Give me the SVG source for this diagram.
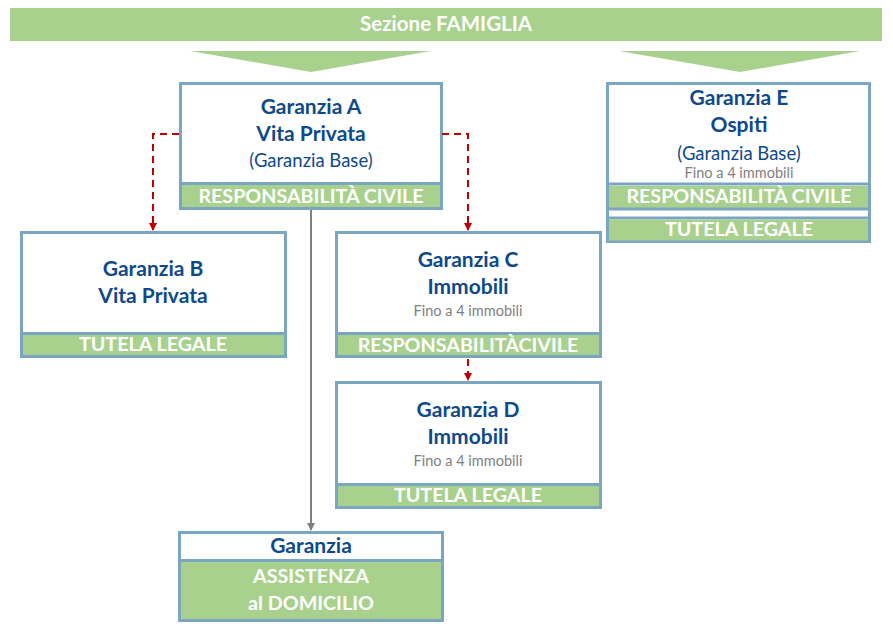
<svg xmlns="http://www.w3.org/2000/svg" width="893" height="634" viewBox="0 0 893 634">
<defs>
<marker id="ag" markerWidth="8" markerHeight="8" refX="7" refY="4" orient="auto" markerUnits="userSpaceOnUse" viewBox="0 0 8 8"><path d="M0,0 L8,4 L0,8 Z" fill="#7f7f7f"/></marker>
<marker id="arr" markerWidth="8" markerHeight="8" refX="7" refY="4" orient="auto" markerUnits="userSpaceOnUse" viewBox="0 0 8 8"><path d="M0,0 L8,4 L0,8 Z" fill="#c00000"/></marker>
</defs>
<style>
.box{fill:#fff;stroke:#7aa6c2;stroke-width:3}
.band{fill:#a9d18e}
.ln{stroke:#7aa6c2;stroke-width:3}
.t{font-family:Lato,"Liberation Sans",sans-serif;font-weight:bold;font-size:21px;fill:#0e4a8a;text-anchor:middle}
.s{font-family:Lato,"Liberation Sans",sans-serif;font-size:18.5px;fill:#0e4a8a;text-anchor:middle}
.f{font-family:Lato,"Liberation Sans",sans-serif;font-size:14.5px;fill:#7f7f7f;text-anchor:middle}
.w{font-family:Lato,"Liberation Sans",sans-serif;font-weight:bold;font-size:19.7px;fill:#fff;text-anchor:middle}
.d{fill:none;stroke:#c00000;stroke-width:2;stroke-dasharray:7,5}
</style>
<g id="header">
<rect x="10" y="8" width="872" height="33" class="band"/>
<text x="446" y="31" class="w" style="font-size:20.5px">Sezione FAMIGLIA</text>
<polygon points="190,51 431,51 311,72" class="band"/>
<polygon points="619,51 860,51 740,72" class="band"/>
</g>
<g id="nodeA">
<rect x="180.5" y="83.5" width="261" height="125" class="box"/>
<rect x="182" y="185" width="258" height="22" class="band"/>
<line x1="180" y1="183.5" x2="442" y2="183.5" class="ln"/>
<text x="311" y="114" class="t">Garanzia A</text>
<text x="311" y="141" class="t">Vita Privata</text>
<text x="311" y="167" class="s">(Garanzia Base)</text>
<text x="311" y="203" class="w">RESPONSABILITÀ CIVILE</text>
</g>
<g id="nodeE">
<rect x="607.5" y="83.5" width="262" height="158" class="box"/>
<line x1="607" y1="184" x2="870" y2="184" class="ln"/>
<rect x="609" y="186" width="259" height="22" class="band"/>
<line x1="607" y1="209" x2="870" y2="209" class="ln"/>
<line x1="607" y1="218" x2="870" y2="218" class="ln"/>
<rect x="609" y="219.5" width="259" height="21" class="band"/>
<text x="739" y="105" class="t">Garanzia E</text>
<text x="739" y="132" class="t">Ospiti</text>
<text x="739" y="160" class="s">(Garanzia Base)</text>
<text x="739" y="178" class="f">Fino a 4 immobili</text>
<text x="739" y="203" class="w">RESPONSABILITÀ CIVILE</text>
<text x="739" y="236" class="w">TUTELA LEGALE</text>
</g>
<g id="nodeB">
<rect x="21.5" y="232.5" width="264" height="124" class="box"/>
<line x1="21" y1="333.5" x2="286" y2="333.5" class="ln"/>
<rect x="23" y="335" width="261" height="20" class="band"/>
<text x="153" y="276" class="t">Garanzia B</text>
<text x="153" y="303" class="t">Vita Privata</text>
<text x="153" y="351" class="w">TUTELA LEGALE</text>
</g>
<g id="nodeC">
<rect x="336.5" y="232.5" width="264" height="124" class="box"/>
<line x1="336" y1="333.5" x2="601" y2="333.5" class="ln"/>
<rect x="338" y="335" width="261" height="20" class="band"/>
<text x="468" y="267" class="t">Garanzia C</text>
<text x="468" y="294" class="t">Immobili</text>
<text x="468" y="316" class="f">Fino a 4 immobili</text>
<text x="468" y="352" class="w">RESPONSABILITÀCIVILE</text>
</g>
<g id="nodeD">
<rect x="336.5" y="382.5" width="264" height="125" class="box"/>
<line x1="336" y1="484.5" x2="601" y2="484.5" class="ln"/>
<rect x="338" y="486" width="261" height="20" class="band"/>
<text x="468" y="417" class="t">Garanzia D</text>
<text x="468" y="444" class="t">Immobili</text>
<text x="468" y="466" class="f">Fino a 4 immobili</text>
<text x="468" y="502" class="w">TUTELA LEGALE</text>
</g>
<g id="nodeF">
<rect x="179.5" y="532.5" width="263" height="88" class="box"/>
<line x1="179" y1="560.5" x2="443" y2="560.5" class="ln"/>
<rect x="181" y="562" width="260" height="57" class="band"/>
<text x="311" y="553" class="t">Garanzia</text>
<text x="311" y="583" class="w">ASSISTENZA</text>
<text x="311" y="610" class="w">al DOMICILIO</text>
</g>
<g id="connectors">
<polyline points="179,134 153,134 153,230" class="d" marker-end="url(#arr)"/>
<polyline points="442,134 468,134 468,230" class="d" marker-end="url(#arr)"/>
<polyline points="468,359 468,380" class="d" marker-end="url(#arr)"/>
<line x1="311" y1="210" x2="311" y2="530" stroke="#7f7f7f" stroke-width="2" marker-end="url(#ag)"/>
</g>
</svg>
